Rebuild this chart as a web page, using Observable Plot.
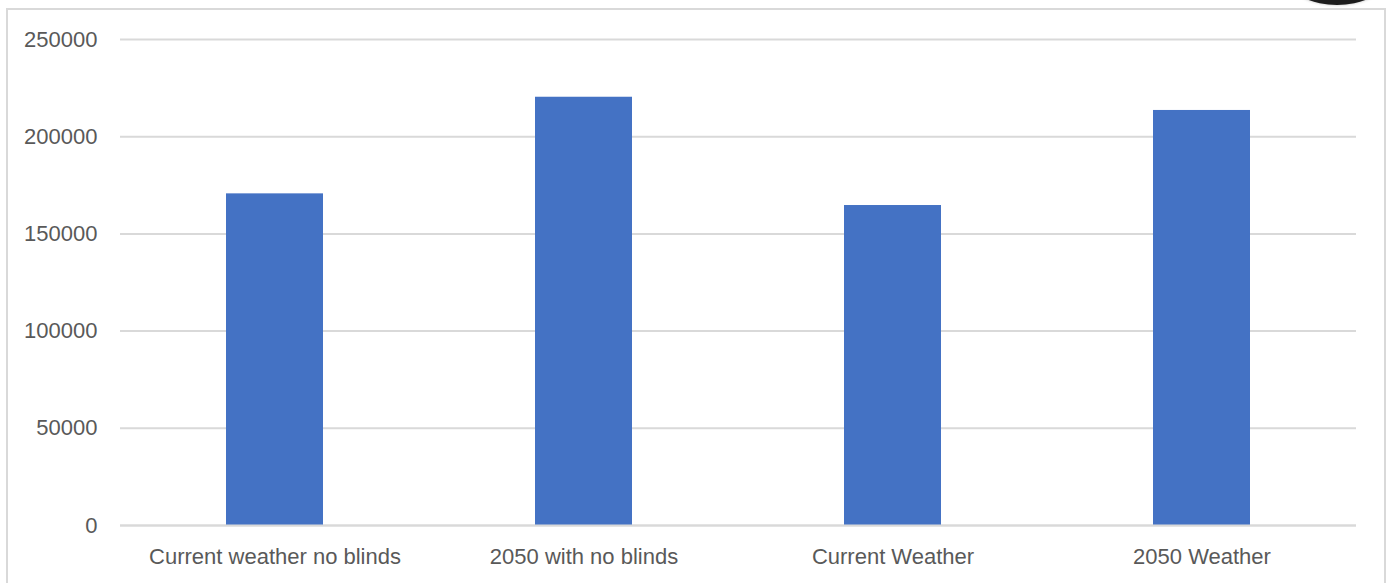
<!DOCTYPE html>
<html><head><meta charset="utf-8">
<script src="https://cdn.jsdelivr.net/npm/d3@7"></script>
<script src="https://cdn.jsdelivr.net/npm/@observablehq/plot@0.6"></script>
<style>
body{margin:0;background:#fff;}
#wrap{position:relative;width:1388px;height:583px;overflow:hidden;background:#fff;}
#chart{position:absolute;left:0;top:0;}
#frame{position:absolute;left:6px;top:8px;width:1380px;height:620px;border:2px solid #d9d9d9;box-sizing:border-box;pointer-events:none;}
#blob{position:absolute;left:1292px;top:-40px;width:90px;height:45px;border-radius:50%;background:#1c1c1c;box-shadow:0 0 3px #bbb;}
</style></head>
<body>
<div id="wrap"><div id="chart"></div><div id="frame"></div><div id="blob"></div></div>
<script>
const categories = ["Current weather no blinds", "2050 with no blinds", "Current Weather", "2050 Weather"];
const values = [170600, 220300, 164600, 213500];
const yTicks = [0, 50000, 100000, 150000, 200000, 250000];

const data = categories.map((c, i) => ({category: c, value: values[i]}));

const chart = Plot.plot({
  width: 1388,
  height: 583,
  marginLeft: 120,
  marginRight: 32,
  marginTop: 39,
  marginBottom: 58,
  style: {background: "transparent", fontFamily: "'Liberation Sans', Arial, sans-serif", fontSize: "22px", color: "#595959"},
  x: {domain: categories, paddingInner: 0.686, paddingOuter: 0.343, label: null},
  y: {domain: [0, 250000], label: null},
  marks: [
    Plot.gridY(yTicks, {stroke: "#d9d9d9", strokeOpacity: 1, strokeWidth: 2}),
    Plot.axisY(yTicks, {tickSize: 0, tickPadding: 23, tickFormat: d3.format("d"), label: null, fill: "#595959"}),
    Plot.axisX({tickSize: 0, tickPadding: 23, label: null, fill: "#595959"}),
    Plot.barY(data, {x: "category", y: "value", fill: "#4472c4"}),
    Plot.ruleY([0], {stroke: "#d9d9d9", strokeWidth: 2})
  ]
});
document.getElementById("chart").appendChild(chart);
</script>
</body></html>
